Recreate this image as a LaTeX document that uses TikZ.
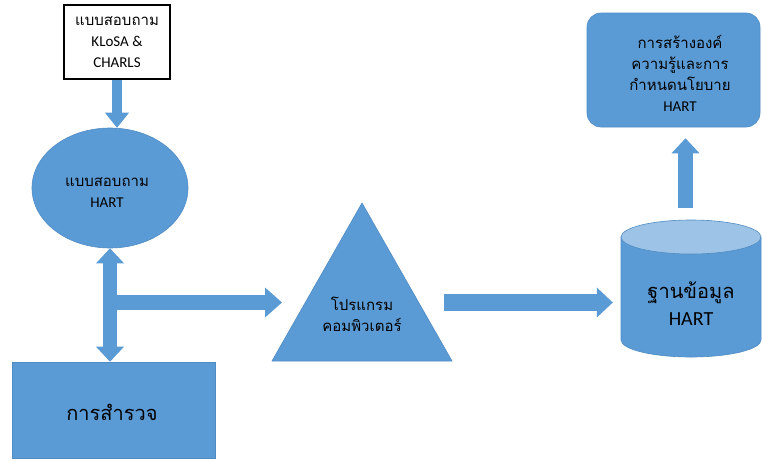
\documentclass[tikz,border=0pt]{standalone}
\usepackage{fontspec}
\setmainfont{Carlito}
\newfontfamily\thai[Script=Thai]{Loma}
\usetikzlibrary{arrows.meta,shapes.geometric}
\definecolor{blu}{HTML}{5B9BD5}
\definecolor{bord}{HTML}{4F8CC4}
\definecolor{ltblu}{HTML}{9DC3E6}
\begin{document}
\begin{tikzpicture}[x=1pt,y=-1pt,
  shp/.style={fill=blu,draw=bord,line width=0.6pt},
  txt/.style={align=center,font=\fontsize{15}{21}\selectfont,text=black,inner sep=0pt},
  bigtxt/.style={align=center,font=\fontsize{20}{27}\selectfont,text=black,inner sep=0pt},
  blk/.style={draw=blu,line width=#1},
  tip/.style n args={2}{-{Triangle[width=#1 0 0,length=#2 0 0,line width=0pt 0 0,fill=blu,color=blu]}},
  dtip/.style n args={2}{{Triangle[width=#1 0 0,length=#2 0 0,line width=0pt 0 0,fill=blu,color=blu]}-{Triangle[width=#1 0 0,length=#2 0 0,line width=0pt 0 0,fill=blu,color=blu]}}
]
\useasboundingbox (0,0) rectangle (762,461);
\fill[white] (0,0) rectangle (762,461);

% top questionnaire box
\node[draw=black,line width=1.2pt,fill=white,minimum width=106pt,minimum height=74pt,txt] (q1) at (117,42) {{\thai แบบสอบถาม}\\KLoSA \&\\CHARLS};

% ellipse
\node[ellipse,shp,minimum width=156pt,minimum height=120pt,inner sep=0pt] (ell) at (110,188) {};
\node[txt] (ellt) at (107,193) {{\thai แบบสอบถาม}\\HART};

% survey rectangle
\node[rectangle,shp,minimum width=203pt,minimum height=96pt,inner sep=0pt] (sv) at (113.5,410) {};
\node[bigtxt] (svt) at (112,412) {\thai การสำรวจ};

% triangle
\path[shp] (272,361) -- (362,203) -- (452,361) -- cycle;
\node[txt] (prog) at (362,314) {\thai โปรแกรม\\\thai คอมพิวเตอร์};

% cylinder
\node[minimum width=140pt,minimum height=137pt,inner sep=0pt] (cyl) at (691,288.5) {};
\path[shp] (621,237) -- (621,340) arc[start angle=180,end angle=0,x radius=70,y radius=17] -- (761,237) -- cycle;
\path[fill=ltblu,draw=bord,line width=0.6pt] (691,237) ellipse[x radius=70,y radius=17];
\node[bigtxt] (db) at (691,304) {\thai ฐานข้อมูล\\HART};

% rounded box
\node[rectangle,shp,rounded corners=14pt,minimum width=173pt,minimum height=114pt,inner sep=0pt] (kb) at (673.5,70) {};
\node[txt] (kbt) at (680,73) {\thai การสร้างองค์\\\thai ความรู้และการ\\\thai กำหนดนโยบาย\\HART};

% connectors
\draw[blk=10pt,tip={24pt}{15pt}] (q1.south) -- (q1.south |- ell.north);
\draw[blk=14pt,dtip={28pt}{15pt}] (ell.south) -- (ell.south |- sv.north);
\coordinate (tl) at (282,302.5);
\draw[blk=15pt,tip={30pt}{17pt}] (ell.south |- tl) -- (tl);
\coordinate (tr) at (444,302.5);
\draw[blk=17pt,tip={30pt}{16pt},shorten >=8pt] (tr) -- (tr -| cyl.west);
\coordinate (up) at (685.5,220);
\draw[blk=15pt,tip={28pt}{15pt},shorten <=12pt,shorten >=11pt] (up) -- (up |- kb.south);
\end{tikzpicture}
\end{document}
